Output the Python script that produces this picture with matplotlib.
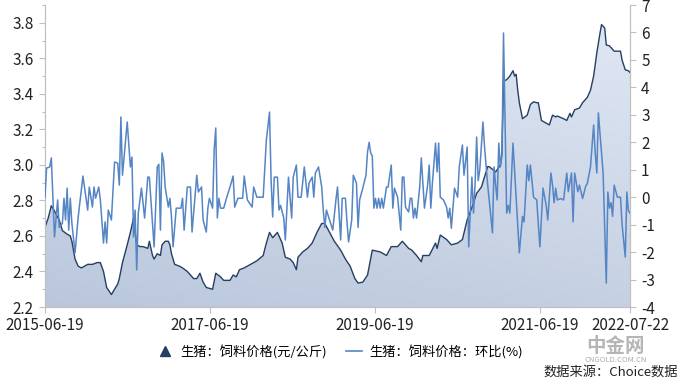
import matplotlib
matplotlib.use("Agg")
import matplotlib.pyplot as plt
import matplotlib.dates as mdates
import numpy as np
import pandas as pd
from matplotlib.lines import Line2D
from matplotlib.ticker import MultipleLocator, FixedLocator

plt.rcParams['font.family'] = ['Noto Sans CJK SC', 'DejaVu Sans']

start = pd.Timestamp('2015-06-19')

# weeks counted from 2015-06-19
price_weeks = [0, 2, 4, 6, 9, 11, 14, 16, 17, 19,
               21, 23, 27, 30, 33, 35, 37, 39, 42, 46,
               47, 49, 52, 54, 56, 57, 58, 60, 62, 65,
               66, 68, 69, 71, 73, 74, 76, 78, 79, 80,
               82, 85, 87, 90, 92, 94, 96, 98, 100, 102,
               106, 108, 111, 113, 117, 119, 121, 123, 126, 130,
               134, 136, 138, 140, 142, 144, 147, 150, 152, 155,
               157, 159, 160, 163, 166, 169, 172, 175, 177, 180,
               183, 187, 190, 193, 196, 198, 201, 204, 207, 212,
               216, 219, 223, 226, 230, 232, 235, 238, 239, 243,
               247, 248, 250, 254, 257, 261, 264, 267, 270, 273,
               276, 280, 281, 285, 288, 289, 290, 292, 294, 296,
               297, 298, 299, 300, 302, 305, 307, 309, 311, 312,
               314, 316, 319, 321, 323, 324, 328, 330, 332, 333,
               335, 338, 340, 343, 345, 347, 349, 351, 352, 354,
               355, 357, 359, 360, 364, 365, 367, 369, 370]
price = [2.65, 2.70, 2.77, 2.74, 2.69, 2.63, 2.61, 2.60, 2.57, 2.47,
         2.43, 2.42, 2.44, 2.44, 2.45, 2.45, 2.40, 2.31, 2.27, 2.33,
         2.36, 2.45, 2.55, 2.62, 2.70, 2.62, 2.55, 2.54, 2.54, 2.53,
         2.57, 2.49, 2.47, 2.50, 2.49, 2.55, 2.57, 2.57, 2.55, 2.50,
         2.44, 2.43, 2.42, 2.40, 2.38, 2.36, 2.36, 2.39, 2.34, 2.31,
         2.30, 2.39, 2.37, 2.35, 2.35, 2.38, 2.37, 2.41, 2.42, 2.44,
         2.46, 2.475, 2.49, 2.56, 2.62, 2.59, 2.62, 2.56, 2.48, 2.47,
         2.45, 2.41, 2.48, 2.51, 2.53, 2.56, 2.62, 2.67, 2.67, 2.62,
         2.57, 2.52, 2.47, 2.43, 2.36, 2.335, 2.34, 2.38, 2.52, 2.51,
         2.49, 2.54, 2.54, 2.57, 2.53, 2.52, 2.49, 2.455, 2.49, 2.49,
         2.56, 2.53, 2.605, 2.58, 2.55, 2.56, 2.58, 2.69, 2.76, 2.84,
         2.875, 2.99, 2.99, 2.96, 3.00, 3.07, 3.47, 3.48, 3.50, 3.53,
         3.50, 3.51, 3.42, 3.35, 3.26, 3.28, 3.34, 3.355, 3.35, 3.35,
         3.25, 3.24, 3.225, 3.28, 3.27, 3.275, 3.26, 3.25, 3.29, 3.27,
         3.31, 3.32, 3.35, 3.38, 3.42, 3.50, 3.63, 3.74, 3.79, 3.77,
         3.675, 3.67, 3.65, 3.64, 3.64, 3.59, 3.535, 3.53, 3.52]

ratio_weeks = [0, 1, 3, 4, 6, 8, 9, 11, 12, 13,
               14, 15, 16, 17, 19, 21, 24, 27, 28, 30,
               31, 32, 34, 35, 37, 38, 39, 40, 42, 44,
               46, 47, 48, 49, 52, 54, 55, 56, 57, 58,
               59, 61, 63, 65, 66, 68, 69, 71, 72, 73,
               74, 75, 76, 78, 79, 80, 81, 83, 86, 87,
               88, 90, 92, 93, 96, 97, 99, 100, 102, 103,
               104, 106, 107, 108, 109, 110, 111, 113, 115, 117,
               119, 120, 122, 125, 126, 128, 131, 132, 134, 138,
               140, 142, 143, 144, 145, 147, 148, 149, 151, 152,
               153, 154, 156, 157, 159, 160, 162, 164, 166, 167,
               169, 170, 171, 173, 175, 176, 177, 178, 180, 182,
               184, 185, 187, 188, 190, 191, 192, 194, 195, 197,
               198, 199, 201, 203, 204, 205, 206, 207, 208, 209,
               210, 211, 212, 213, 214, 216, 217, 219, 220, 221,
               223, 225, 226, 227, 228, 230, 231, 232, 233, 234,
               235, 237, 238, 240, 242, 243, 244, 245, 247, 248,
               249, 250, 252, 254, 255, 256, 257, 259, 261, 262,
               264, 265, 267, 268, 270, 271, 272, 273, 274, 275,
               277, 278, 280, 283, 284, 285, 286, 287, 288, 289,
               290, 292, 293, 294, 296, 298, 300, 302, 303, 305,
               306, 307, 309, 311, 313, 315, 317, 318, 320, 321,
               322, 323, 324, 326, 328, 330, 331, 333, 334, 335,
               337, 338, 340, 342, 343, 345, 347, 348, 349, 350,
               352, 353, 355, 356, 357, 358, 359, 360, 362, 364,
               365, 367, 368, 369, 370]
ratio = [0.0, 1.06, 1.1, 1.43, -1.45, -0.1, -1.1, -0.95, -0.04, -0.83,
         0.33, -1.2, -0.04, -0.95, -2.03, -0.72, 0.77, -0.47, 0.37, -0.36,
         0.37, -0.04, 0.37, -0.1, -1.67, -0.9, -1.67, -0.47, -0.83, 1.28,
         1.24, 0.44, 2.92, 0.8, 2.74, 1.1, 1.46, -1.45, -0.47, -2.65,
         -0.58, 0.33, -0.76, 0.73, 0.73, -1.0, -1.81, 1.1, 1.2, -1.2,
         1.61, 1.3, 0.37, -0.36, -0.04, -0.72, -1.81, -0.4, -0.4, -0.04,
         -1.2, 0.37, 0.37, -1.27, 0.8, 0.19, 0.37, -0.83, -1.27, -0.4,
         -0.04, -0.4, 1.72, 2.52, -0.76, -0.04, -0.4, -0.4, 0.0, 0.37,
         0.77, -0.36, -0.04, -0.04, 0.77, -0.1, -0.36, 0.37, 0.0, 0.0,
         2.08, 3.1, 0.63, -0.72, 0.73, 0.73, -0.47, -0.3, -0.76, -1.56,
         -0.4, 0.73, -0.76, 0.73, 1.17, 0.0, 0.0, 1.1, 0.0, 0.52,
         0.73, 0.0, 0.88, 1.1, 0.37, -0.47, -1.1, -0.47, -0.83, -1.2,
         -0.1, 0.37, -1.56, -0.04, -0.04, -0.9, -1.63, -0.83, 0.8, 0.51,
         -1.1, -0.1, 0.33, 0.8, 1.65, 2.0, 1.61, 1.5, -0.4, -0.04,
         -0.4, -0.04, -0.4, -0.04, -0.4, 0.37, 0.37, 1.17, -0.4, 0.33,
         0.0, -1.2, 0.73, 0.73, -0.36, -0.54, -0.04, -0.04, -0.76, -0.4,
         -0.76, 0.37, 1.43, -0.4, 0.44, 1.17, -0.4, 0.5, 1.97, 0.92,
         1.97, 0.0, -0.1, -0.36, -0.76, -0.4, -1.13, 0.33, 0.0, 1.1,
         1.9, 0.8, 1.83, -1.81, 0.73, -0.58, 0.44, 2.19, 0.6, 1.0,
         2.74, 1.83, 0.44, -1.3, 1.1, 0.44, -0.1, 1.97, 1.1, 1.5,
         5.98, -0.58, -0.3, -0.58, 1.97, 0.0, -2.03, -0.7, -0.9, 1.17,
         0.6, 1.17, 0.0, -0.1, -1.81, 0.33, -0.3, -0.83, 0.88, 0.44,
         -0.2, 0.33, -0.1, -0.05, -0.1, 0.88, 0.2, 0.88, -0.9, 0.88,
         0.2, 0.44, -0.05, 0.4, 0.5, 1.1, 2.63, 1.61, 0.88, 3.07,
         1.61, 0.88, -3.13, 0.19, -0.4, -0.2, -0.7, 0.44, 0.0, 0.0,
         -1.0, -2.18, 0.19, -0.5, -0.58]

x_tick_labels = ['2015-06-19', '2017-06-19', '2019-06-19', '2021-06-19', '2022-07-22']
left_ticks = [2.2, 2.4, 2.6, 2.8, 3.0, 3.2, 3.4, 3.6, 3.8]
right_ticks = list(range(-4, 8))

price_dates = start + pd.to_timedelta(np.array(price_weeks) * 7, unit='D')
ratio_dates = start + pd.to_timedelta(np.array(ratio_weeks) * 7, unit='D')
tick_dates = pd.to_datetime(x_tick_labels)

fig = plt.figure(figsize=(6.8, 3.85), dpi=100)
ax = fig.add_axes([45 / 680, 1 - 307 / 385, 585 / 680, 302 / 385])
ax2 = ax.twinx()

x0, x1 = mdates.date2num(tick_dates[0]), mdates.date2num(tick_dates[-1])
y0, y1 = 2.2, 3.9

# gradient fill under the price line
poly = ax.fill_between(price_dates, y0, price, facecolor='none', edgecolor='none')
gx, gy = np.meshgrid(np.linspace(0, 1, 200), np.linspace(0, 1, 200))
t = np.clip(0.8 * gy + 0.3 * gx, 0, 1)[..., None]
c_low = np.array([0.73, 0.78, 0.86])
c_high = np.array([0.87, 0.90, 0.95])
img = ax.imshow(c_low + (c_high - c_low) * t, extent=[x0, x1, y0, y1],
                origin='lower', aspect='auto', zorder=1)
img.set_clip_path(poly.get_paths()[0], transform=ax.transData)
ax.plot(price_dates, price, color='#253f63', lw=1.0, zorder=3)

ax2.plot(ratio_dates, ratio, color='#5585c5', lw=1.1, zorder=4)

ax.set_xlim(x0, x1)
ax.set_ylim(y0, y1)
ax2.set_ylim(-4, 7)

ax.set_xticks(tick_dates)
ax.set_xticklabels(x_tick_labels)
ax.yaxis.set_major_locator(FixedLocator(left_ticks))
ax.set_yticklabels([f'{v:.1f}' for v in left_ticks])
ax.yaxis.set_minor_locator(MultipleLocator(0.1))
ax2.set_yticks(right_ticks)
ax2.set_yticklabels([str(v) for v in right_ticks])

grey = '#c0c0c0'
for a in (ax, ax2):
    a.spines['top'].set_visible(False)
    for side in ('left', 'right', 'bottom'):
        a.spines[side].set_color(grey)
        a.spines[side].set_linewidth(0.8)
    a.tick_params(colors=grey, labelcolor='#222222', labelsize=11, length=4, width=0.8)
ax.tick_params(axis='y', which='minor', colors=grey, length=2.5, width=0.8)
ax.tick_params(axis='x', pad=3)
ax.tick_params(axis='y', pad=4)
ax2.tick_params(axis='y', pad=4)

handles = [Line2D([], [], marker='^', color='#253f63', linestyle='none', markersize=7),
           Line2D([], [], color='#5585c5', lw=1.2)]
fig.legend(handles, ['生猪：饲料价格(元/公斤)', '生猪：饲料价格：环比(%)'],
           loc='center', bbox_to_anchor=(0.5, 1 - 352 / 385), ncol=2, frameon=False,
           fontsize=9.5, handlelength=1.2, columnspacing=1.4, handletextpad=0.6)

fig.text(0.997, 1 - 372 / 385, '数据来源：Choice数据', ha='right', va='center',
         fontsize=9.5, color='#222222')
fig.text(0.905, 1 - 347 / 385, '中金网', ha='center', va='center', fontsize=14,
         color='#b5b5b5', fontweight='bold', zorder=0)
fig.text(0.905, 1 - 360 / 385, 'CNGOLD.COM.CN', ha='center', va='center', fontsize=5.5,
         color='#aaaaaa')

fig.savefig('out.png', dpi=100)
